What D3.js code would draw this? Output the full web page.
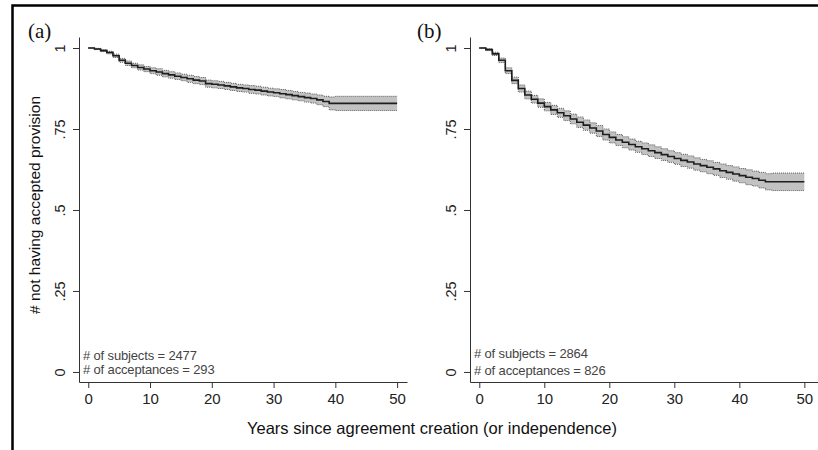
<!DOCTYPE html>
<html><head><meta charset="utf-8">
<script src="https://cdn.jsdelivr.net/npm/d3@7"></script>
<style>body{margin:0;background:#fff} svg{display:block}</style>
</head><body><svg id="c" width="818" height="450"></svg>
<script>
const years = [0,1,2,3,4,5,6,7,8,9,10,11,12,13,14,15,16,17,18,19,20,21,22,23,24,25,26,27,28,29,30,31,32,33,34,35,36,37,38,39,40,41,42,43,44,45,46,47,48,49,50];

const survA = [1.000,0.997,0.992,0.986,0.976,0.962,0.953,0.946,0.940,0.935,0.930,0.926,0.921,0.917,0.913,0.909,0.905,0.901,0.898,0.890,0.888,0.886,0.883,0.880,0.877,0.875,0.872,0.870,0.867,0.864,0.862,0.859,0.856,0.853,0.850,0.847,0.844,0.840,0.835,0.829,0.829,0.829,0.829,0.829,0.829,0.829,0.829,0.829,0.829,0.829,0.829];
const loA   = [1.000,0.995,0.989,0.982,0.971,0.956,0.946,0.939,0.932,0.927,0.921,0.916,0.911,0.907,0.903,0.899,0.894,0.890,0.887,0.879,0.877,0.875,0.872,0.869,0.866,0.864,0.860,0.858,0.855,0.852,0.850,0.846,0.843,0.840,0.837,0.833,0.830,0.825,0.819,0.809,0.807,0.807,0.807,0.807,0.807,0.807,0.807,0.807,0.807,0.807,0.807];
const hiA   = [1.000,0.999,0.995,0.990,0.981,0.968,0.960,0.953,0.948,0.943,0.939,0.936,0.931,0.927,0.923,0.919,0.916,0.912,0.909,0.901,0.899,0.897,0.894,0.891,0.888,0.886,0.884,0.882,0.879,0.876,0.874,0.872,0.869,0.866,0.863,0.861,0.858,0.855,0.851,0.849,0.851,0.851,0.851,0.851,0.851,0.851,0.851,0.851,0.851,0.851,0.851];

const survB = [1.000,0.995,0.982,0.962,0.930,0.900,0.875,0.855,0.842,0.830,0.819,0.809,0.800,0.791,0.781,0.771,0.762,0.753,0.744,0.733,0.724,0.716,0.709,0.702,0.695,0.689,0.683,0.677,0.671,0.665,0.659,0.653,0.648,0.642,0.637,0.632,0.627,0.621,0.616,0.611,0.606,0.601,0.597,0.592,0.587,0.587,0.587,0.587,0.587,0.587,0.587];
const loB   = [1.000,0.992,0.977,0.955,0.921,0.890,0.864,0.843,0.830,0.817,0.806,0.795,0.786,0.776,0.766,0.755,0.746,0.737,0.727,0.716,0.707,0.699,0.692,0.685,0.678,0.671,0.665,0.659,0.653,0.647,0.641,0.634,0.629,0.623,0.618,0.612,0.607,0.600,0.595,0.589,0.584,0.578,0.574,0.568,0.562,0.560,0.560,0.560,0.560,0.560,0.560];
const hiB   = [1.000,0.998,0.987,0.969,0.939,0.910,0.886,0.867,0.854,0.843,0.832,0.823,0.814,0.806,0.796,0.787,0.778,0.769,0.761,0.750,0.741,0.733,0.726,0.719,0.712,0.707,0.701,0.695,0.689,0.683,0.677,0.672,0.667,0.661,0.656,0.652,0.647,0.642,0.637,0.633,0.628,0.624,0.620,0.616,0.612,0.614,0.614,0.614,0.614,0.614,0.614];

const xTicks = [0,10,20,30,40,50];
const yTicks = [0,0.25,0.5,0.75,1];
const yTickLabels = ["0",".25",".5",".75","1"];
const panelLabels = ["(a)","(b)"];
const notesA = ["# of subjects = 2477","# of acceptances = 293"];
const notesB = ["# of subjects = 2864","# of acceptances = 826"];
const yTitle = "# not having accepted provision";
const xTitle = "Years since agreement creation (or independence)";

const svg = d3.select("#c");
const SANS = "'Liberation Sans', Arial, Helvetica, sans-serif";
const SERIF = "'Liberation Serif', 'Times New Roman', serif";

// outer frame
svg.append("rect").attr("x",12.5).attr("y",5.5).attr("width",900).attr("height",600)
  .attr("fill","none").attr("stroke","#000").attr("stroke-width",2.5);

const y = d3.scaleLinear().domain([-0.031,1.034]).range([382,37]);

const panels = [
  {label:panelLabels[0], lx:28, x:d3.scaleLinear().domain([-1.5,51.6]).range([79,407]),
   surv:survA, lo:loA, hi:hiA, notes:notesA, ny:[360,374]},
  {label:panelLabels[1], lx:417, x:d3.scaleLinear().domain([-1.43,52.1]).range([470,818]),
   surv:survB, lo:loB, hi:hiB, notes:notesB, ny:[358,375]}
];

panels.forEach(p => {
  const g = svg.append("g");
  const x = p.x;
  const pts = years.map((t,i)=>({t, s:p.surv[i], lo:p.lo[i], hi:p.hi[i]}));

  // CI band
  g.append("path").datum(pts)
    .attr("d", d3.area().curve(d3.curveStepAfter).x(d=>x(d.t)).y0(d=>y(d.lo)).y1(d=>y(d.hi)))
    .attr("fill","#c2c2c2").attr("stroke","none");
  ["lo","hi"].forEach(k=>{
    g.append("path").datum(pts)
      .attr("d", d3.line().curve(d3.curveStepAfter).x(d=>x(d.t)).y(d=>y(d[k])))
      .attr("fill","none").attr("stroke","#5a5a5a").attr("stroke-width",1)
      .attr("stroke-dasharray","1,1");
  });
  // survival line
  g.append("path").datum(pts)
    .attr("d", d3.line().curve(d3.curveStepAfter).x(d=>x(d.t)).y(d=>y(d.s)))
    .attr("fill","none").attr("stroke","#1e1e1e").attr("stroke-width",1.6);

  // y axis
  const ya = g.append("g").attr("transform",`translate(${x.range()[0]},0)`)
    .call(d3.axisLeft(y).tickValues(yTicks).tickFormat((d,i)=>yTickLabels[i]).tickSize(6).tickSizeOuter(0));
  ya.select(".domain").attr("stroke","#333");
  ya.selectAll(".tick line").attr("stroke","#333");
  ya.selectAll(".tick text").attr("x",null).attr("dy",null)
    .attr("text-anchor","middle").attr("transform","translate(-14,0) rotate(-90)")
    .attr("font-family",SANS).attr("font-size",14.5).attr("fill","#222");

  // x axis
  const xa = g.append("g").attr("transform",`translate(0,382)`)
    .call(d3.axisBottom(x).tickValues(xTicks).tickFormat(d3.format("d")).tickSize(6).tickSizeOuter(0).tickPadding(5));
  xa.select(".domain").attr("stroke","#333");
  xa.selectAll(".tick line").attr("stroke","#333");
  xa.selectAll(".tick text").attr("font-family",SANS).attr("font-size",15).attr("fill","#222");

  // panel label
  svg.append("text").attr("x",p.lx).attr("y",38).text(p.label)
    .attr("font-family",SERIF).attr("font-size",21).attr("fill","#111");

  // notes
  p.notes.forEach((t,i)=>{
    svg.append("text").attr("x",x.range()[0]+4).attr("y",p.ny[i]).text(t)
      .attr("font-family",SANS).attr("font-size",13).attr("fill","#444")
      .attr("letter-spacing","-0.15");
  });
});

// axis titles
svg.append("text").attr("transform","translate(40,205) rotate(-90)")
  .attr("text-anchor","middle").text(yTitle)
  .attr("font-family",SANS).attr("font-size",15.5).attr("fill","#111");
svg.append("text").attr("x",432).attr("y",434).attr("text-anchor","middle").text(xTitle)
  .attr("font-family",SANS).attr("font-size",16.5).attr("fill","#111");
</script>
</body></html>
